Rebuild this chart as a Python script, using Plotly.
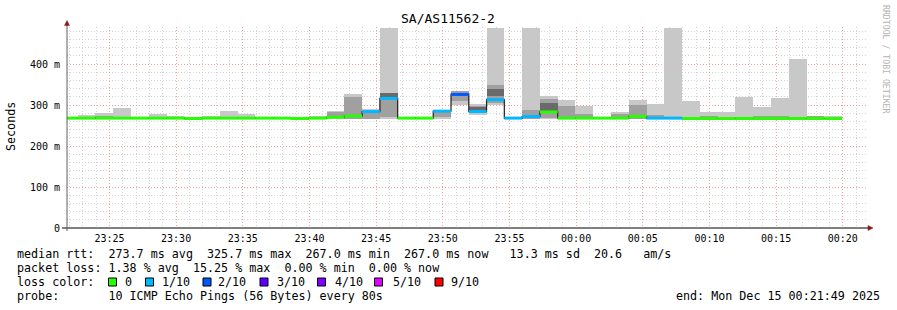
import plotly.graph_objects as go
import pandas as pd

# ---------------- data ----------------
title_text = "SA/AS11562-2"
step_start = "2025-12-14 23:21:17"   # first (partial) 80 s step
step_seconds = 80
range_start = "2025-12-14 23:21:49"
range_end = "2025-12-15 00:21:49"

# median rtt per step (ms)
median = [268, 268, 268, 268, 268, 268, 268, 267, 268, 268,
          268, 268, 268, 267, 268, 270, 273, 284, 316, 268,
          268, 285, 325.7, 284, 313, 268, 272, 283, 268, 268,
          268, 268, 272, 268, 268, 267, 267, 267, 267, 267,
          267, 267, 267, 267.0]
# loss per step (tenths of 10 pings)
loss = [0, 0, 0, 0, 0, 0, 0, 0, 0, 0,
        0, 0, 0, 0, 0, 0, 0, 1, 1, 0,
        0, 1, 2, 1, 1, 1, 1, 0, 0, 0,
        0, 0, 0, 1, 1, 0, 0, 0, 0, 0,
        0, 0, 0, 0]
# smoke: lowest / highest ping per step (ms)
rtt_min = [266, 266, 266, 266, 266, 266, 266, 266, 266, 266,
           266, 266, 266, 266, 266, 266, 266, 266, 266, 266,
           266, 266, 300, 276, 301, 266, 265, 266, 266, 266,
           266, 266, 266, 266, 266, 265, 265, 265, 265, 265,
           265, 265, 265, 265]
rtt_max = [269, 275, 280, 293, 270, 279, 273, 269, 273, 286,
           279, 271, 270, 270, 273, 286, 327, 290, 488, 269,
           269, 288, 333, 302, 488, 269, 488, 322, 312, 298,
           269, 283, 312, 302, 488, 310, 283, 283, 320, 295,
           317, 412, 273, 272]
# inner smoke band (ms)
mid_lo = [None, None, 267, None, None, None, None, None, None, None,
          None, None, None, None, None, 268, 267, 267, 271, None,
          None, 270, 310, 286, 304, None, 266, 269, 269, 269,
          None, 269, 267, 269, None, None, 267, None, 267, 267,
          267, 267, 267, None]
mid_hi = [None, None, 272, None, None, None, None, None, None, None,
          None, None, None, None, None, 283, 319, 282, 330, None,
          None, 283, 333, 298, 349, None, 288, 315, 297, 277,
          None, 278, 300, 276, None, None, 273, None, 270, 272,
          272, 270, 272, None]
# core smoke band (ms)
core_lo = [None] * 18 + [318] + [None] * 4 + [287, 322, None, None, 284] + [None] * 16
core_hi = [None] * 18 + [330] + [None] * 4 + [296, 338, None, None, 306] + [None] * 16

loss_levels = [0, 1, 2, 3, 4, 5, 9]
loss_labels = ["0", "1/10", "2/10", "3/10", "4/10", "5/10", "9/10"]
loss_colors = ["#26ff00", "#00b8ff", "#0059ff", "#5e00ff", "#7e00ff", "#dd00ff", "#ff0000"]

y_ticks = [0, 100, 200, 300, 400]
y_tick_text = ["0", "100 m", "200 m", "300 m", "400 m"]

legend_rtt = "median rtt:  273.7 ms avg  325.7 ms max  267.0 ms min  267.0 ms now   13.3 ms sd  20.6   am/s"
legend_loss = "packet loss: 1.38 % avg  15.25 % max  0.00 % min  0.00 % now"
legend_color = "loss color:"
legend_probe = "probe:       10 ICMP Echo Pings (56 Bytes) every 80s"
legend_end = "end: Mon Dec 15 00:21:49 2025"
watermark = "RRDTOOL / TOBI OETIKER"
y_title = "Seconds"

# ---------------- figure ----------------
W, H = 897, 310
L, R, T, B = 67, 30, 27, 82
PW, PH = W - L - R, H - T - B


def px(x):
    return (x - L) / PW


def py(y):
    return (H - B - y) / PH


n = len(median)
t0 = pd.Timestamp(step_start)
starts = [t0 + pd.Timedelta(seconds=step_seconds * i) for i in range(n)]
ends = [s + pd.Timedelta(seconds=step_seconds) for s in starts]
centers = [s + pd.Timedelta(seconds=step_seconds / 2) for s in starts]

fig = go.Figure()


def band(lo, hi, color):
    xs, bs, ys = [], [], []
    for c, l, h in zip(centers, lo, hi):
        if l is None or h is None:
            continue
        xs.append(c)
        bs.append(l)
        ys.append(h - l)
    fig.add_trace(go.Bar(x=xs, y=ys, base=bs, width=[step_seconds * 1000] * len(xs),
                         marker=dict(color=color, line=dict(width=0)),
                         hoverinfo="skip", showlegend=False))


band(rtt_min, rtt_max, "#c8c8c8")
band(mid_lo, mid_hi, "#a0a0a0")
band(core_lo, core_hi, "#6a6a6a")

# black median step line
fig.add_trace(go.Scatter(x=starts + [ends[-1]], y=median + [median[-1]], mode="lines",
                         line=dict(color="#202020", width=1.2, shape="hv"),
                         hoverinfo="skip", showlegend=False))

# loss-coloured median segments
for lvl, col in zip(loss_levels, loss_colors):
    xs, ys = [], []
    for s, e, m, l in zip(starts, ends, median, loss):
        if l == lvl:
            xs += [s, e, None]
            ys += [m, m, None]
    if xs:
        fig.add_trace(go.Scatter(x=xs, y=ys, mode="lines",
                                 line=dict(color=col, width=3),
                                 hoverinfo="skip", showlegend=False))

mono = "DejaVu Sans Mono"
fig.update_layout(
    width=W, height=H, autosize=False,
    margin=dict(l=L, r=R, t=T, b=B, pad=0),
    paper_bgcolor="white", plot_bgcolor="white",
    barmode="overlay", bargap=0,
    showlegend=False,
    font=dict(family=mono, size=10, color="#000000"),
    xaxis=dict(type="date", range=[range_start, range_end],
               dtick=300000, tick0="2025-12-14 23:25:00", tickformat="%H:%M",
               showgrid=True, gridcolor="#f2a0a0", griddash="1px,2px", gridwidth=1,
               minor=dict(dtick=60000, showgrid=True, gridcolor="#d4d4d4", griddash="1px,2px"),
               showline=False, zeroline=False, ticks="", ticklabelstandoff=3,
               tickfont=dict(family=mono, size=10, color="#000")),
    yaxis=dict(range=[0, PH / 0.41], tickvals=y_ticks, ticktext=y_tick_text,
               showgrid=True, gridcolor="#f2a0a0", griddash="1px,2px", gridwidth=1,
               minor=dict(dtick=20, showgrid=True, gridcolor="#d4d4d4", griddash="1px,2px"),
               showline=False, zeroline=False, ticks="", ticklabelstandoff=6,
               tickfont=dict(family=mono, size=10, color="#000")),
)

shapes = [
    dict(type="line", xref="paper", yref="paper", x0=px(62), x1=px(868), y0=py(228), y1=py(228),
         line=dict(color="#000000", width=1)),
    dict(type="line", xref="paper", yref="paper", x0=px(67), x1=px(67), y0=py(231), y1=py(24),
         line=dict(color="#606060", width=1)),
    dict(type="path", xref="paper", yref="paper",
         path=f"M {px(64.5)},{py(25.5)} L {px(69.5)},{py(25.5)} L {px(67)},{py(20.5)} Z",
         fillcolor="#8b1a1a", line=dict(color="#8b1a1a", width=0.5)),
    dict(type="path", xref="paper", yref="paper",
         path=f"M {px(868)},{py(225.5)} L {px(868)},{py(230.5)} L {px(873)},{py(228)} Z",
         fillcolor="#8b1a1a", line=dict(color="#8b1a1a", width=0.5)),
]

annos = []


def text(x, y, s, size=11.7, anchor="left", color="#000", angle=0):
    annos.append(dict(xref="paper", yref="paper", x=px(x), y=py(y), text=s.replace(" ", "\u00a0"),
                      showarrow=False, xanchor=anchor, yanchor="middle", textangle=angle,
                      font=dict(family=mono, size=size, color=color), borderpad=0))


text(448, 19, title_text, size=13, anchor="center")
text(886, 59, watermark, size=8.2, anchor="center", color="#b4b4b4", angle=90)
text(11, 126, y_title, anchor="center", angle=-90)
text(16, 254, legend_rtt)
text(16, 268, legend_loss)
text(16, 282, legend_color)
text(16, 296, legend_probe)
text(881, 296, legend_end, anchor="right")

square_x = [108.5, 145.5, 203, 260, 317.5, 374.5, 435]
label_x = [124, 160.7, 217.3, 276, 334, 391.7, 450]
for sx, lx, col, lab in zip(square_x, label_x, loss_colors, loss_labels):
    shapes.append(dict(type="rect", xref="paper", yref="paper",
                       x0=px(sx), x1=px(sx + 8), y0=py(286), y1=py(278),
                       fillcolor=col, line=dict(color="#000", width=1)))
    text(lx, 282, lab)

fig.update_layout(shapes=shapes, annotations=annos)
fig.write_html("out.html")
